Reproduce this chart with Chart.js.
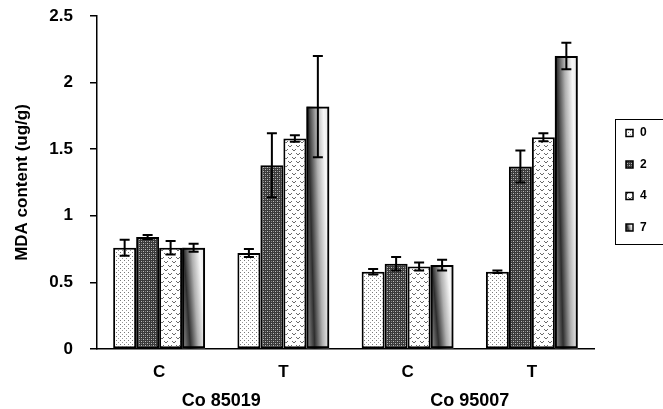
<!DOCTYPE html>
<html>
<head>
<meta charset="utf-8">
<script src="https://cdn.jsdelivr.net/npm/chart.js@4"></script>
<style>
  html, body { margin: 0; padding: 0; background: #fff; }
  #wrap { width: 663px; height: 409px; }
</style>
</head>
<body>
<div id="wrap"><canvas id="mda-chart" width="663" height="409"></canvas></div>
<script>
'use strict';

// Data********** //
let categories = ['C', 'T', 'C', 'T'];
let groupNames = ['Co 85019', 'Co 95007'];
let seriesNames = ['0', '2', '4', '7'];
let yTickLabels = ['0', '0.5', '1', '1.5', '2', '2.5'];

let day0 = [0.76, 0.72, 0.58, 0.58];
let day2 = [0.84, 1.38, 0.64, 1.37];
let day4 = [0.76, 1.58, 0.62, 1.59];
let day7 = [0.76, 1.82, 0.63, 2.20];

let err0 = [0.06, 0.03, 0.02, 0.01];
let err2 = [0.015, 0.24, 0.05, 0.12];
let err4 = [0.05, 0.025, 0.03, 0.03];
let err7 = [0.03, 0.38, 0.04, 0.10];

let fontFamily = '"Liberation Sans", Arial, sans-serif';

// Pattern helpers********//
function makeTile(w, h, draw) {
  let c = document.createElement('canvas');
  c.width = w;
  c.height = h;
  let g = c.getContext('2d');
  draw(g);
  return c;
}

let ctx = document.getElementById('mda-chart').getContext('2d');

// dotted white
let dotTile = makeTile(4, 4, function (g) {
  g.fillStyle = '#fff';
  g.fillRect(0, 0, 4, 4);
  g.fillStyle = '#777';
  g.fillRect(0, 0, 1, 1);
  g.fillStyle = '#999';
  g.fillRect(2, 2, 1, 1);
});

// dark plaid
let plaidTile = makeTile(4, 4, function (g) {
  g.fillStyle = '#3a3a3a';
  g.fillRect(0, 0, 4, 4);
  g.fillStyle = '#bdbdbd';
  g.fillRect(1, 1, 1, 1);
  g.fillRect(3, 3, 1, 1);
  g.fillStyle = '#808080';
  g.fillRect(1, 3, 1, 1);
  g.fillRect(3, 1, 1, 1);
});

// little chevrons
let waveTile = makeTile(8, 8, function (g) {
  g.fillStyle = '#fff';
  g.fillRect(0, 0, 8, 8);
  g.strokeStyle = '#6a6a6a';
  g.lineWidth = 1;
  g.beginPath();
  g.moveTo(0, 1); g.lineTo(2, 3); g.lineTo(4, 1);
  g.moveTo(4, 5); g.lineTo(6, 7); g.lineTo(8, 5);
  g.stroke();
});

let dotPattern = ctx.createPattern(dotTile, 'repeat');
let plaidPattern = ctx.createPattern(plaidTile, 'repeat');
let wavePattern = ctx.createPattern(waveTile, 'repeat');

// diagonal metallic fill used for day 7 bars
function shadeGradient(g, left, top, w, h) {
  let len = Math.sqrt(h * h + 0.09 * w * w);
  let nx = h / len;
  let ny = -0.3 * w / len;
  let corners = [[left, top], [left + w, top], [left, top + h], [left + w, top + h]];
  let minP = Infinity, maxP = -Infinity, minC = corners[0];
  for (let i = 0; i < corners.length; i++) {
    let p = corners[i][0] * nx + corners[i][1] * ny;
    if (p < minP) { minP = p; minC = corners[i]; }
    if (p > maxP) { maxP = p; }
  }
  let span = maxP - minP;
  let grad = g.createLinearGradient(minC[0], minC[1], minC[0] + nx * span, minC[1] + ny * span);
  grad.addColorStop(0, '#9a9a9a');
  grad.addColorStop(0.28, '#2e2e2e');
  grad.addColorStop(0.55, '#b0b0b0');
  grad.addColorStop(0.8, '#f7f7f7');
  grad.addColorStop(1, '#e4e4e4');
  return grad;
}

// Plugins********//
let shadePlugin = {
  id: 'shadeBars',
  beforeDatasetDraw(chart, args) {
    if (args.index !== 3) return;
    let g = chart.ctx;
    g.save();
    args.meta.data.forEach(function (bar) {
      let left = bar.x - bar.width / 2;
      let h = bar.base - bar.y;
      g.fillStyle = shadeGradient(g, left, bar.y, bar.width, h);
      g.fillRect(left, bar.y, bar.width, h);
    });
    g.restore();
  }
};

let errorBarPlugin = {
  id: 'errorBars',
  afterDatasetsDraw(chart) {
    let g = chart.ctx;
    let yScale = chart.scales.y;
    g.save();
    g.strokeStyle = '#000';
    g.lineWidth = 2;
    chart.data.datasets.forEach(function (ds, di) {
      let meta = chart.getDatasetMeta(di);
      meta.data.forEach(function (bar, i) {
        let v = ds.data[i];
        let e = ds.errors[i];
        let yTop = yScale.getPixelForValue(v + e);
        let yBot = yScale.getPixelForValue(v - e);
        let half = 5;
        g.beginPath();
        g.moveTo(bar.x, yTop); g.lineTo(bar.x, yBot);
        g.moveTo(bar.x - half, yTop); g.lineTo(bar.x + half, yTop);
        g.moveTo(bar.x - half, yBot); g.lineTo(bar.x + half, yBot);
        g.stroke();
      });
    });
    g.restore();
  }
};

let legendPlugin = {
  id: 'boxLegend',
  afterDraw(chart) {
    let g = chart.ctx;
    g.save();
    g.strokeStyle = '#000';
    g.lineWidth = 1;
    g.strokeRect(615.5, 119.5, 60, 125);
    let rowY = [133, 164.5, 196, 227.5];
    chart.data.datasets.forEach(function (ds, i) {
      let y = rowY[i];
      if (i === 3) {
        g.fillStyle = shadeGradient(g, 626, y - 3.5, 7, 7);
      } else {
        g.fillStyle = ds.backgroundColor;
      }
      g.fillRect(626, y - 3.5, 7, 7);
      g.lineWidth = 1.5;
      g.strokeRect(626, y - 3.5, 7, 7);
      g.fillStyle = '#000';
      g.font = 'bold 12px ' + fontFamily;
      g.textAlign = 'left';
      g.textBaseline = 'middle';
      g.fillText(ds.label, 640, y);
    });
    g.restore();
  }
};

// Chart********//
function makeSeries(name, values, errors, fill) {
  return {
    label: name,
    data: values,
    errors: errors,
    backgroundColor: fill,
    borderColor: '#000',
    borderWidth: 2,
    borderSkipped: false,
    categoryPercentage: 0.74,
    barPercentage: 1
  };
}

let chartObj = {
  type: 'bar',
  data: {
    labels: categories,
    datasets: [
      makeSeries(seriesNames[0], day0, err0, dotPattern),
      makeSeries(seriesNames[1], day2, err2, plaidPattern),
      makeSeries(seriesNames[2], day4, err4, wavePattern),
      makeSeries(seriesNames[3], day7, err7, 'rgba(0,0,0,0)')
    ]
  },
  options: {
    responsive: false,
    animation: false,
    devicePixelRatio: 1,
    layout: { padding: { top: 0, right: 69, left: 0, bottom: 0 } },
    plugins: {
      legend: { display: false },
      tooltip: { enabled: false }
    },
    scales: {
      y: {
        min: 0,
        max: 2.5,
        ticks: {
          stepSize: 0.5,
          padding: 17,
          color: '#000',
          font: { family: fontFamily, size: 17, weight: 'bold' },
          callback: function (value, index) { return yTickLabels[index]; }
        },
        grid: { drawOnChartArea: false, drawTicks: true, tickLength: 7, color: '#000', lineWidth: 1.5 },
        border: { display: true, color: '#000', width: 1.5 },
        title: {
          display: true,
          text: 'MDA content (ug/g)',
          color: '#000',
          padding: { top: 12, bottom: 0 },
          font: { family: fontFamily, size: 17, weight: 'bold' }
        },
        afterFit: function (scale) {
          scale.width = 97;
          scale.paddingTop = 16;
          scale.paddingBottom = 0;
        }
      },
      x: {
        ticks: {
          padding: 13,
          color: '#000',
          font: { family: fontFamily, size: 17, weight: 'bold' }
        },
        grid: { display: false, drawTicks: false },
        border: { display: true, color: '#000', width: 1.5 },
        afterFit: function (scale) { scale.height = 35; }
      },
      x2: {
        type: 'category',
        position: 'bottom',
        labels: groupNames,
        offset: true,
        ticks: {
          padding: 6,
          color: '#000',
          font: { family: fontFamily, size: 18, weight: 'bold' }
        },
        grid: { display: false, drawTicks: false },
        border: { display: false },
        afterFit: function (scale) { scale.height = 25; }
      }
    }
  },
  plugins: [shadePlugin, errorBarPlugin, legendPlugin]
};

new Chart(ctx, chartObj);
</script>
</body>
</html>
